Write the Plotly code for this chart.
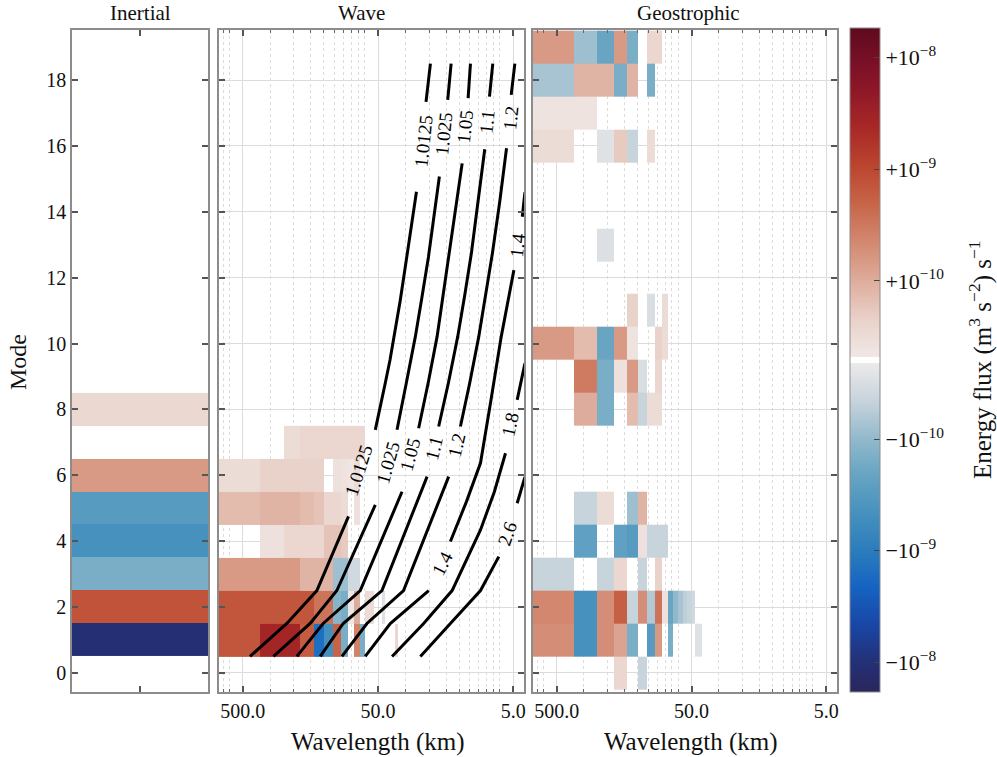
import numpy as np
import plotly.graph_objects as go

# ---------------------------------------------------------------- data
DOMAIN_KM = 750.0          # wavenumber bin k spans [k, k+1] * 2*pi / DOMAIN_KM (rad/km)

# Inertial panel: one value per vertical mode (units of 1e-10)
inertial_modes = [1, 2, 3, 4, 5, 6, 7, 8]
inertial_flux_e10 = [-105, 7.5, -1.5, -4.5, -3.0, 1.5, 0, 0.38]

# Wave panel: modes x wavenumber bins 1..20 (units of 1e-10)
wave_modes = [1, 2, 3, 4, 5, 6, 7]
wave_flux_e10 = [
    [7, 27, 27, 6, -15, -5, 5, -1.5, 0, 2.5, -1.5, 0, 0, 0, 0, 0, 0, 0, 0, 0.4],
    [7, 7, 7, 7, 3.5, 3.5, -1.2, -1.5, 0.1, 1.0, 0, 0.3, 0.3, 0, 0, -0.2, 0, 0, 0, 0],
    [1.5, 1.5, 1.5, 0.9, 0.9, 0.9, -0.9, -0.9, -0.4, -0.4, 0, 0, 0, 0, 0, 0, 0, 0, 0, 0],
    [0, 0.2, 0.4, 0.4, 0.4, 0.7, 0.7, 0.6, 0, 0, 0, 0, 0, 0, 0, 0, 0, 0, 0, 0],
    [0.8, 0.9, 0.9, 0.8, 0.7, 0.4, 0.4, 0.3, 0, 0.2, 0, 0, 0, 0, 0, 0, 0, 0, 0, 0],
    [0.3, 0.5, 0.5, 0.5, 0.5, 0, 0.2, 0.15, 0.1, 0.3, 0, 0, 0, 0, 0, 0, 0, 0, 0, 0],
    [0, 0, 0.3, 0.4, 0.4, 0.4, 0.4, 0.4, 0.4, 0.4, 0.4, 0, 0, 0, 0, 0, 0, 0, 0, 0],
]

# Geostrophic panel: modes 0..19 x wavenumber bins 1..17 (units of 1e-10)
geo_modes = list(range(0, 20))
geo_flux_e10 = [
    [0, 0, 0, 0.4, 0, -0.5, 0, 0, 0, 0, 0, 0, 0, 0, 0, 0, 0],
    [2.0, -4.5, 2.0, 1.2, -1.5, 0, -3.0, 1.5, 0, -1.5, 0, 0, 0, 0, 0, -0.2, -0.2],
    [2.3, -4.5, 2.0, 5.5, -0.5, 2.0, -0.7, 3.5, 0.2, -2.0, -1.0, -0.8, -0.6, -0.5, -0.4, 0, 0],
    [-0.5, 0, -0.5, 0.4, 0, -0.5, 0, 0.5, 0, 0, 0, 0, 0, 0, 0, 0, 0],
    [0, -2.5, 0, -2.5, -3.0, 0.2, -0.5, -0.5, -0.5, 0, 0, 0, 0, 0, 0, 0, 0],
    [0, -0.5, 0.3, 0, -0.9, 0.9, 0, 0, 0, 0, 0, 0, 0, 0, 0, 0, 0],
    [0, 0, 0, 0, 0, 0, 0, 0, 0, 0, 0, 0, 0, 0, 0, 0, 0],
    [0, 0, 0, 0, 0, 0, 0, 0, 0, 0, 0, 0, 0, 0, 0, 0, 0],
    [0, 1.0, -1.5, 0, 0.8, -0.5, 0.3, 0.3, 0, 0, 0, 0, 0, 0, 0, 0, 0],
    [0, 3.0, -1.5, 0.2, 1.5, -0.3, 0, 0.4, 0, 0, 0, 0, 0, 0, 0, 0, 0],
    [1.5, 0.8, -2.0, 1.5, 0.15, 0, 0, 0.5, 0.3, 0, 0, 0, 0, 0, 0, 0, 0],
    [0, 0, 0, 0, 0.5, 0, -0.3, 0, 0.3, 0, 0, 0, 0, 0, 0, 0, 0],
    [0, 0, 0, 0, 0, 0, 0, 0, 0, 0, 0, 0, 0, 0, 0, 0, 0],
    [0, 0, -0.25, 0, 0, 0, 0, 0, 0, 0, 0, 0, 0, 0, 0, 0, 0],
    [0, 0, 0, 0, 0, 0, 0, 0, 0, 0, 0, 0, 0, 0, 0, 0, 0],
    [0, 0, 0, 0, 0, 0, 0, 0, 0, 0, 0, 0, 0, 0, 0, 0, 0],
    [0.3, 0, -0.2, 0.6, -0.5, 0, 0.3, 0, 0, 0, 0, 0, 0, 0, 0, 0, 0],
    [0.15, 0.15, 0, 0, 0, 0, 0, 0, 0, 0, 0, 0, 0, 0, 0, 0, 0],
    [-0.8, 0.9, 0.9, -1.5, 0.9, 0, -1.5, 0, 0, 0, 0, 0, 0, 0, 0, 0, 0],
    [1.5, -0.9, -2.0, 1.5, -1.5, 0, 0.4, 0.4, 0, 0, 0, 0, 0, 0, 0, 0, 0],
]

# Frequency-ratio contours over the Wave panel: (mode, wavelength km); None = label gap
c1_0125_mode = [18.5, 17.34, None, 14.61, 13.5, 12.42, 11.3, 10.21, 9.5, 8.8, 8.1, 7.38, None, 4.75, 2.5, 1.5, 0.5]
c1_0125_wl = [20.5, 22.1, None, 26.0, 28.4, 31.2, 34.3, 37.9, 40.8, 44.2, 48.0, 52.4, None, 82.7, 141.7, 236.3, 442.2]
c1_025_mode = [18.5, 17.40, None, 15.07, 13.8, 12.63, 11.4, 10.21, 8.8, 7.38, None, 5.10, 2.5, 1.5, 0.5]
c1_025_wl = [14.41, 15.27, None, 17.60, 19.3, 21.2, 23.7, 26.5, 30.9, 36.2, None, 52.4, 100.8, 158.9, 297.0]
c1_05_mode = [18.5, 17.45, None, 15.47, 14.1, 12.75, 11.5, 10.21, 8.8, 7.43, None, 5.50, 2.5, 1.5, 0.5]
c1_05_wl = [10.37, 10.79, None, 11.94, 13.3, 14.84, 16.4, 18.30, 21.3, 25.05, None, 33.25, 67.7, 127.3, 199.3]
c1_1_mode = [18.5, 17.50, None, 15.90, 14.3, 12.75, 11.5, 10.21, 8.8, 7.48, None, 5.96, 2.5, 1.5, 0.5]
c1_1_wl = [7.09, 7.50, None, 8.13, 9.1, 10.20, 11.4, 12.88, 15.1, 17.81, None, 21.70, 46.8, 90.5, 133.9]
c1_2_mode = [18.5, 17.55, None, 15.93, 14.3, 12.75, 11.5, 10.21, 8.8, 7.48, None, 5.96, 2.5, 1.5, 0.5]
c1_2_wl = [4.87, 5.18, None, 5.61, 6.3, 7.13, 8.0, 9.00, 10.5, 12.30, None, 15.02, 32.4, 60.4, 92.5]
c1_4_mode = [14.6, 13.85, None, 12.23, 11.2, 10.21, 8.3, 6.37, 5.2, 3.99, None, 2.5, 1.5, 0.5]
c1_4_wl = [4.10, 4.29, None, 4.95, 5.5, 6.14, 7.3, 8.74, 11.1, 14.59, None, 21.1, 40.6, 62.2]
c1_8_mode = [9.4, 8.29, None, 6.67, 5.5, 4.34, 2.5, 1.5, 0.5]
c1_8_wl = [4.10, 4.68, None, 5.71, 6.9, 8.74, 14.17, 23.0, 39.4]
c2_6_mode = [5.95, 5.15, None, 3.53, 2.5, 1.5, 0.5]
c2_6_wl = [4.10, 4.68, None, 6.40, 8.74, 14.59, 24.33]

contour_label_text = ["1.0125", "1.025", "1.05", "1.1", "1.2", "1.4",
                      "1.0125", "1.025", "1.05", "1.1", "1.2", "1.4", "1.8", "2.6"]
contour_label_mode = [16.13, 16.38, 16.58, 16.74, 16.84, 12.99,
                      6.16, 6.38, 6.62, 6.82, 6.92, 3.33, 7.53, 4.24]
contour_label_wl = [23.0, 16.35, 11.29, 7.80, 5.24, 4.68,
                    70.0, 42.0, 28.86, 19.39, 13.01, 16.80, 5.24, 5.55]
contour_label_angle = [-84, -84, -84, -84, -84, -84,
                       -72, -74, -75, -76, -77, -63, -78, -71]

wl_tick_vals = [500.0, 50.0, 5.0]
wl_tick_text = ["500.0", "50.0", "5.0"]
cbar_tick_vals = [1e-8, 1e-9, 1e-10, -1e-10, -1e-9, -1e-8]
cbar_tick_text = ["+10<sup>\u22128</sup>", "+10<sup>\u22129</sup>", "+10<sup>\u221210</sup>",
                  "\u221210<sup>\u221210</sup>", "\u221210<sup>\u22129</sup>", "\u221210<sup>\u22128</sup>"]

# ---------------------------------------------------------------- scales
LINTHRESH = 1e-10
LINSCALE = 0.71
VMAX = 1.85e-8
HALF = LINSCALE + np.log10(VMAX / LINTHRESH)


def symlog(v):
    a = abs(v)
    t = LINSCALE * a / LINTHRESH if a < LINTHRESH else LINSCALE + np.log10(a / LINTHRESH)
    return np.sign(v) * t


def norm(v):
    return 0.5 + symlog(v) / (2 * HALF)


def zgrid(rows):
    return [[(norm(v * 1e-10) if v != 0 else None) for v in r] for r in rows]


def kappa(wls):
    return [(2 * np.pi / w if w is not None else None) for w in wls]


dk = 2 * np.pi / DOMAIN_KM
FONT = "Liberation Serif, Times New Roman, serif"

colorscale = [
    [0.000, "rgb(42,38,92)"],
    [0.045, "rgb(36,48,118)"],
    [0.100, "rgb(25,70,165)"],
    [0.160, "rgb(22,100,195)"],
    [0.210, "rgb(42,123,188)"],
    [0.270, "rgb(70,145,190)"],
    [0.330, "rgb(105,165,195)"],
    [0.380, "rgb(145,185,203)"],
    [0.440, "rgb(200,212,220)"],
    [0.4955, "rgb(236,234,234)"],
    [0.4960, "rgb(255,255,255)"],
    [0.5040, "rgb(255,255,255)"],
    [0.5045, "rgb(240,232,230)"],
    [0.560, "rgb(233,210,202)"],
    [0.620, "rgb(222,172,155)"],
    [0.680, "rgb(210,135,110)"],
    [0.740, "rgb(198,98,70)"],
    [0.790, "rgb(188,70,48)"],
    [0.850, "rgb(168,40,38)"],
    [0.910, "rgb(140,22,40)"],
    [0.955, "rgb(118,15,38)"],
    [1.000, "rgb(95,10,30)"],
]

# ---------------------------------------------------------------- page geometry
W, H = 997, 757


def PX(x):
    return x / W


def PY(y):
    return 1 - y / H


fig = go.Figure()

fig.add_trace(go.Heatmap(
    x=[0, 1], y=[m - 0.5 for m in inertial_modes] + [inertial_modes[-1] + 0.5],
    z=[[z] for z in [(norm(v * 1e-10) if v != 0 else None) for v in inertial_flux_e10]],
    coloraxis="coloraxis", xaxis="x", yaxis="y", hoverinfo="skip"))

nw = len(wave_flux_e10[0])
fig.add_trace(go.Heatmap(
    x=[dk * k for k in range(1, nw + 2)],
    y=[m - 0.5 for m in wave_modes] + [wave_modes[-1] + 0.5],
    z=zgrid(wave_flux_e10), coloraxis="coloraxis", xaxis="x2", yaxis="y2", hoverinfo="skip"))

ng = len(geo_flux_e10[0])
fig.add_trace(go.Heatmap(
    x=[dk * k for k in range(1, ng + 2)],
    y=[m - 0.5 for m in geo_modes] + [geo_modes[-1] + 0.5],
    z=zgrid(geo_flux_e10), coloraxis="coloraxis", xaxis="x3", yaxis="y3", hoverinfo="skip"))

for modes, wls in [(c1_0125_mode, c1_0125_wl), (c1_025_mode, c1_025_wl), (c1_05_mode, c1_05_wl),
                   (c1_1_mode, c1_1_wl), (c1_2_mode, c1_2_wl), (c1_4_mode, c1_4_wl),
                   (c1_8_mode, c1_8_wl), (c2_6_mode, c2_6_wl)]:
    fig.add_trace(go.Scatter(x=kappa(wls), y=modes, mode="lines", connectgaps=False,
                             line=dict(color="black", width=3), xaxis="x2", yaxis="y2",
                             hoverinfo="skip", showlegend=False))

annotations = []
for txt, m, w, ang in zip(contour_label_text, contour_label_mode, contour_label_wl, contour_label_angle):
    annotations.append(dict(x=np.log10(2 * np.pi / w), y=m, xref="x2", yref="y2", text=txt,
                            showarrow=False, textangle=ang, xanchor="center", yanchor="middle",
                            font=dict(family=FONT, size=19, color="black")))

ydom = [PY(692), PY(30)]
YR = [-0.58, 19.52]
axis_common = dict(showline=True, linecolor="#8c8c8c", linewidth=1.5, mirror="ticks",
                   ticks="inside", ticklen=6, tickwidth=1.5, tickcolor="#555",
                   zeroline=False, tickfont=dict(family=FONT, size=20, color="#111"))

minor_vals = [d * 10.0 ** e for e in (-3, -2, -1, 0) for d in range(1, 10)]
logx = dict(type="log", range=[np.log10(dk), np.log10(dk * 180)],
            tickmode="array", tickvals=[2 * np.pi / w for w in wl_tick_vals], ticktext=wl_tick_text,
            showgrid=True, gridcolor="#dcdcdc", gridwidth=1,
            minor=dict(tickmode="array", tickvals=minor_vals, ticks="inside", ticklen=3,
                       tickcolor="#666", tickwidth=1, showgrid=True, gridcolor="#dcdcdc",
                       griddash="dot", gridwidth=1))
yax = dict(range=YR, tickmode="array", tickvals=list(range(0, 19, 2)), domain=ydom)

fig.update_layout(
    width=W, height=H, margin=dict(l=0, r=0, t=0, b=0, autoexpand=False),
    paper_bgcolor="white", plot_bgcolor="white", showlegend=False,
    font=dict(family=FONT, color="#111"),
    xaxis=dict(domain=[PX(72), PX(208)], range=[0, 1], tickmode="array", tickvals=[0.5],
               showticklabels=False, showgrid=False, anchor="y", **axis_common),
    yaxis=dict(anchor="x", showgrid=False, **yax, **axis_common),
    xaxis2=dict(domain=[PX(219), PX(524)], anchor="y2", **logx, **axis_common),
    yaxis2=dict(anchor="x2", showticklabels=False, showgrid=True, gridcolor="#dcdcdc", **yax, **axis_common),
    xaxis3=dict(domain=[PX(533), PX(837)], anchor="y3", **logx, **axis_common),
    yaxis3=dict(anchor="x3", showticklabels=False, showgrid=True, gridcolor="#dcdcdc", **yax, **axis_common),
    coloraxis=dict(colorscale=colorscale, cmin=0, cmax=1,
                   colorbar=dict(x=PX(850), xanchor="left", xpad=0, ypad=0,
                                 y=PY(360), yanchor="middle", len=664, lenmode="pixels",
                                 thickness=30, thicknessmode="pixels",
                                 tickmode="array", tickvals=[norm(v) for v in cbar_tick_vals],
                                 ticktext=cbar_tick_text, ticks="inside", ticklen=6,
                                 tickcolor="#444", outlinecolor="#8c8c8c", outlinewidth=1,
                                 tickfont=dict(family=FONT, size=22, color="#111"))),
)

label_font = dict(family=FONT, size=25, color="#111")
annotations += [
    dict(x=PX(140), y=PY(13), text="Inertial", font=dict(family=FONT, size=21, color="#111")),
    dict(x=PX(361), y=PY(13), text="Wave", font=dict(family=FONT, size=21, color="#111")),
    dict(x=PX(688), y=PY(13), text="Geostrophic", font=dict(family=FONT, size=21, color="#111")),
    dict(x=PX(18), y=PY(362), text="Mode", textangle=-90, font=dict(family=FONT, size=24, color="#111")),
    dict(x=PX(378), y=PY(742), text="Wavelength (km)", font=label_font),
    dict(x=PX(691), y=PY(742), text="Wavelength (km)", font=label_font),
    dict(x=PX(980), y=PY(360), textangle=-90, font=label_font,
         text="Energy flux (m<sup>3</sup> s<sup>\u22122</sup>) s<sup>\u22121</sup>"),
]
for a in annotations[len(contour_label_text):]:
    a.update(xref="paper", yref="paper", showarrow=False, xanchor="center", yanchor="middle")
fig.update_layout(annotations=annotations)

fig.write_html("out.html", config={"displayModeBar": False},
               post_script="document.body.style.margin='0px';")
